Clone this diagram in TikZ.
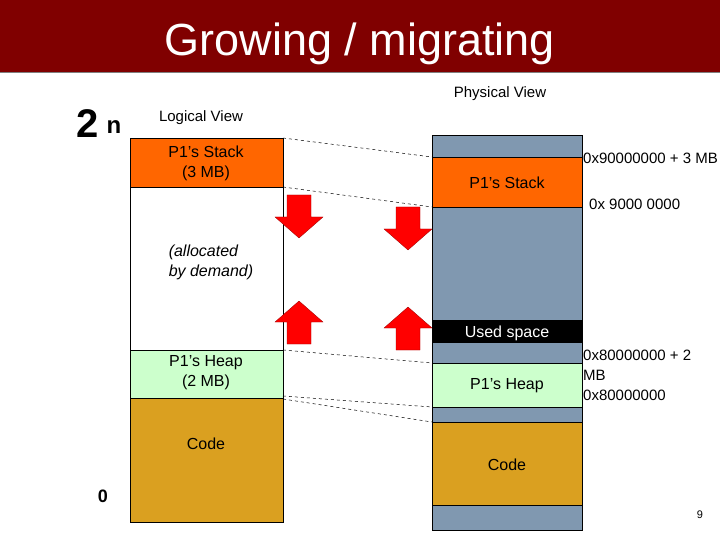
\documentclass[tikz,border=0pt]{standalone}
\usepackage{fontspec}
\setmainfont{Liberation Sans}
\definecolor{titlered}{RGB}{128,0,0}
\definecolor{stackor}{RGB}{255,102,0}
\definecolor{heapgr}{RGB}{204,255,204}
\definecolor{codeor}{RGB}{218,160,32}
\definecolor{physgray}{RGB}{128,152,176}
\definecolor{arrowred}{RGB}{255,0,0}
\tikzset{
  blk/.style={draw=black, line width=0.6pt},
  lbl/.style={font=\fontsize{16}{20}\selectfont, align=center, inner sep=1pt},
  sml/.style={font=\fontsize{15}{19}\selectfont, inner sep=1pt},
  dl/.style={dashed, line width=0.5pt},
  dnarrow/.style={fill=arrowred, draw=arrowred!60!black, line width=0.3pt}
}
\begin{document}
\begin{tikzpicture}[x=1pt,y=-1pt]
\useasboundingbox (0,0) rectangle (720,540);
\fill[white] (0,0) rectangle (720,540);
% title
\fill[titlered] (0,0) rectangle (720,72);
\draw[gray, line width=0.8pt] (0,72) -- (720,72);
\node[text=white, font=\fontsize{45}{48}\selectfont] (title) at (360,44) {Growing / migrating};
% logical view
\node[sml] (lv) at (201,118) {Logical View};
\node[font=\bfseries\fontsize{40}{44}\selectfont, anchor=west, inner sep=0pt] (two) at (76,124) {2};
\node[font=\bfseries\fontsize{24}{26}\selectfont] (en) at (114,127) {n};
\node[font=\bfseries\fontsize{18}{20}\selectfont] (zero) at (103,496) {0};
\draw[blk, fill=white] (130,138) rectangle (283,522);
\draw[blk, fill=stackor] (130,138) rectangle (283,187);
\draw[blk, fill=heapgr] (130,350) rectangle (283,398);
\draw[blk, fill=codeor] (130,398) rectangle (283,522);
\node[lbl] (ls) at (206,163) {P1’s Stack\\(3 MB)};
\node[lbl, align=left, font=\itshape\fontsize{16}{20}\selectfont] (ad) at (211,262) {(allocated\\by demand)};
\node[lbl] (lh) at (206,373) {P1’s Heap\\(2 MB)};
\node[lbl] (lc) at (206,444) {Code};
% physical view
\node[sml] (pv) at (500,94) {Physical View};
\draw[blk, fill=physgray] (432,135) rectangle (582,530);
\draw[blk, fill=stackor] (432,157) rectangle (582,207);
\fill[black] (432,320) rectangle (582,343);
\draw[blk, fill=heapgr] (432,363) rectangle (582,407);
\draw[blk, fill=codeor] (432,422) rectangle (582,505);
\node[lbl] (ps) at (507,183) {P1’s Stack};
\node[lbl, text=white] (pu) at (507,333) {Used space};
\node[lbl] (ph) at (507,386) {P1’s Heap};
\node[lbl] (pc) at (507,465) {Code};
% addresses
\node[sml, anchor=west] (a1) at (582,158) {0x90000000 + 3 MB};
\node[sml, anchor=west] (a2) at (588,204) {0x 9000 0000};
\node[sml, anchor=north west, align=left, font=\fontsize{15}{20}\selectfont] (a3) at (582,349) {0x80000000 + 2\\MB\\0x80000000};
\node[font=\fontsize{11}{12}\selectfont] (pg) at (700,515) {9};
% dashed links
\coordinate (l1) at (283,138); \coordinate (r1) at (432,157);
\coordinate (l2) at (283,187); \coordinate (r2) at (432,207);
\coordinate (l3) at (283,350); \coordinate (r3) at (432,363);
\coordinate (l4) at (283,396); \coordinate (r4) at (432,407);
\coordinate (l5) at (283,399); \coordinate (r5) at (432,422);
\foreach \i in {1,...,5} \draw[dl] (l\i) -- (r\i);
% arrows
\newcommand{\dnarr}[2]{\draw[dnarrow] (#1-12,#2) -- (#1+12,#2) -- (#1+12,#2+22) -- (#1+24,#2+22) -- (#1,#2+43) -- (#1-24,#2+22) -- (#1-12,#2+22) -- cycle;}
\newcommand{\uparr}[2]{\draw[dnarrow] (#1-12,#2) -- (#1+12,#2) -- (#1+12,#2-22) -- (#1+24,#2-22) -- (#1,#2-43) -- (#1-24,#2-22) -- (#1-12,#2-22) -- cycle;}
\dnarr{299}{195}
\dnarr{408}{207}
\uparr{299}{344}
\uparr{408}{350}
\end{tikzpicture}
\end{document}
